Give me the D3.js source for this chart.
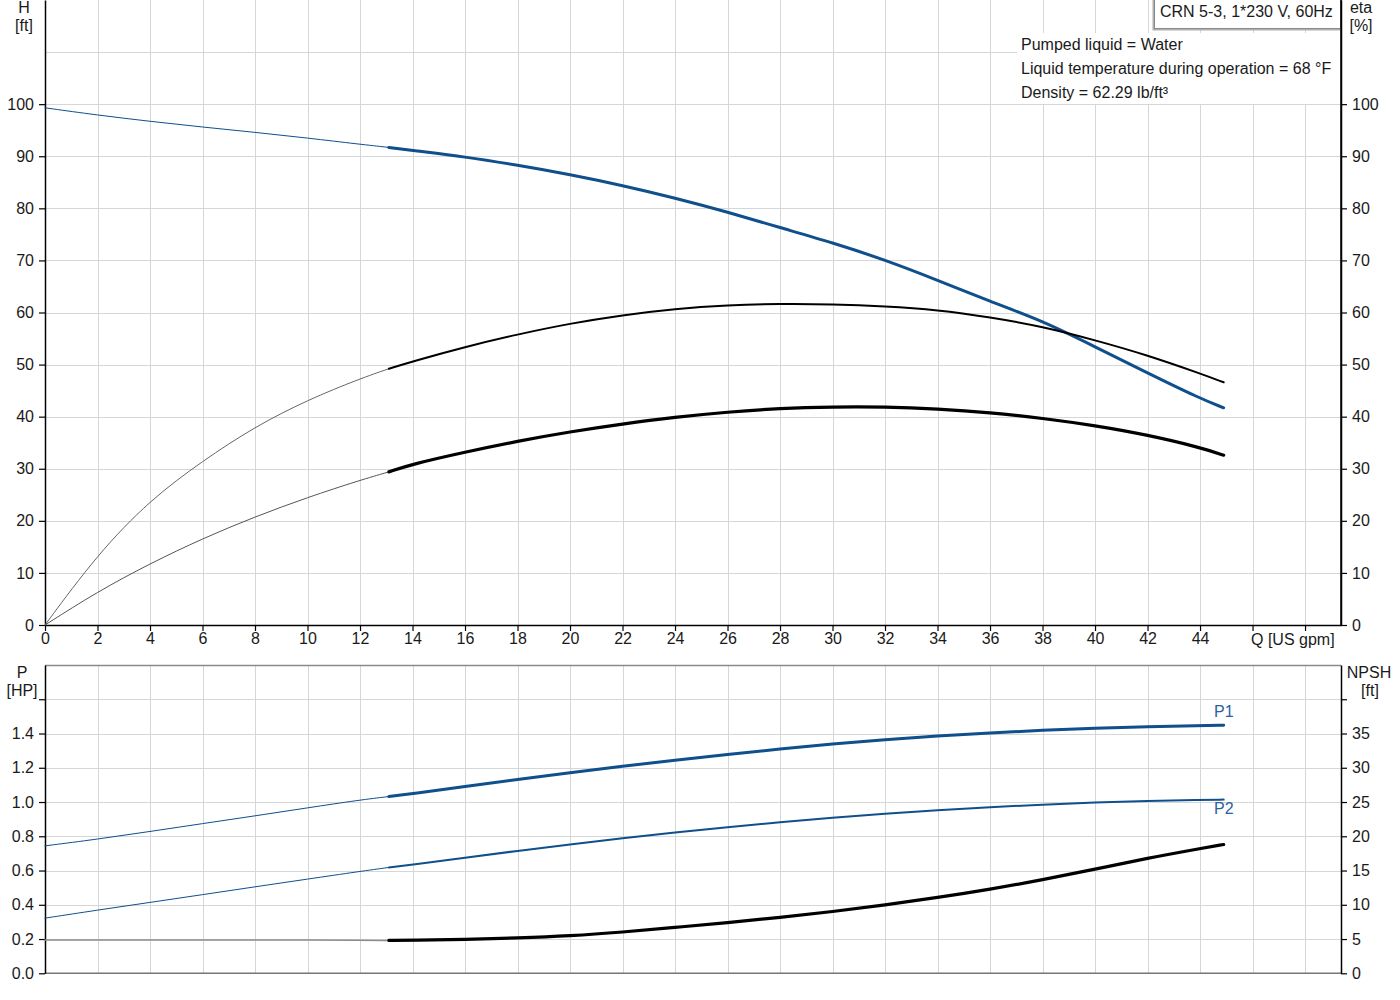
<!DOCTYPE html>
<html>
<head>
<meta charset="utf-8">
<script src="https://cdn.jsdelivr.net/npm/d3@7"></script>
<style>
  html, body { margin: 0; padding: 0; background: #fff; }
  svg { display: block; font-family: "Liberation Sans", Arial, sans-serif; }
</style>
</head>
<body>
<svg id="chart" width="1400" height="1000"></svg>
<script>
// ---------- DATA ----------
const flowLow  = [0, 2, 4, 6, 8, 10, 12, 13.1];
const flowHigh = [13.1, 14, 16, 18, 20, 22, 24, 26, 28, 30, 32, 34, 36, 38, 40, 42, 44, 44.9];

const headLow  = [99.3, 97.9, 96.7, 95.6, 94.6, 93.5, 92.3, 91.7];
const headHigh = [91.7, 91.1, 89.9, 88.3, 86.5, 84.4, 82.0, 79.3, 76.3, 73.4, 70.1, 66.2, 62.1, 58.4, 53.4, 48.4, 43.5, 41.7];

const etaLow  = [0, 13.6, 24.0, 31.5, 38.1, 43.2, 47.3, 49.2];
const etaHigh = [49.2, 50.6, 53.4, 55.8, 57.9, 59.5, 60.7, 61.4, 61.7, 61.6, 61.2, 60.5, 59.1, 57.3, 54.7, 51.8, 48.3, 46.6];

const etaTotLow  = [0, 6.4, 11.8, 16.6, 20.8, 24.5, 27.8, 29.4];
const etaTotHigh = [29.4, 30.9, 33.2, 35.3, 37.1, 38.6, 39.9, 40.9, 41.6, 41.9, 41.9, 41.5, 40.8, 39.7, 38.3, 36.5, 34.1, 32.6];

const p1Low  = [0.744, 0.783, 0.828, 0.874, 0.919, 0.966, 1.012, 1.032];
const p1High = [1.032, 1.048, 1.090, 1.132, 1.172, 1.209, 1.244, 1.278, 1.310, 1.339, 1.364, 1.386, 1.404, 1.419, 1.431, 1.440, 1.446, 1.448];

const p2Low  = [0.322, 0.369, 0.414, 0.459, 0.505, 0.550, 0.595, 0.618];
const p2High = [0.618, 0.634, 0.675, 0.715, 0.753, 0.789, 0.822, 0.853, 0.882, 0.908, 0.932, 0.952, 0.970, 0.985, 0.998, 1.007, 1.012, 1.014];

const npshLow  = [4.85, 4.85, 4.85, 4.85, 4.85, 4.85, 4.82, 4.8];
const npshHigh = [4.8, 4.84, 4.95, 5.15, 5.45, 6.0, 6.7, 7.4, 8.15, 9.0, 9.98, 11.05, 12.25, 13.65, 15.2, 16.8, 18.2, 18.8];

const qTicks      = [0,2,4,6,8,10,12,14,16,18,20,22,24,26,28,30,32,34,36,38,40,42,44,46,48];
const qTickLabels = ["0","2","4","6","8","10","12","14","16","18","20","22","24","26","28","30","32","34","36","38","40","42","44","",""];
const hTicks   = [0,10,20,30,40,50,60,70,80,90,100];
const hGrid    = [10,20,30,40,50,60,70,80,90,100,110];
const pTicks   = [0,0.2,0.4,0.6,0.8,1.0,1.2,1.4,1.6];
const pLabels  = ["0.0","0.2","0.4","0.6","0.8","1.0","1.2","1.4",""];
const npTicks  = [0,5,10,15,20,25,30,35,40];
const npLabels = ["0","5","10","15","20","25","30","35",""];

const titleText = "CRN 5-3, 1*230 V, 60Hz";
const infoLines = ["Pumped liquid = Water", "Liquid temperature during operation = 68 °F", "Density = 62.29 lb/ft³"];

// ---------- SETUP ----------
const svg = d3.select("#chart");
const L = 45, R = 1341;
const topY0 = 625, topY1 = 0;
const botY0 = 973.3, botY1 = 665;
const BLUE = "#0e4f8c";
const GRID = "#d4d6d8";
const TXT = "#1a1a1a";

const x = d3.scaleLinear().domain([0, 49.37]).range([L, R]);
const yH = d3.scaleLinear().domain([0, 120]).range([topY0, topY1]);
const yEta = d3.scaleLinear().domain([0, 120]).range([topY0, topY1]);
const yP = d3.scaleLinear().domain([0, 1.8]).range([botY0, botY1]);
const yN = d3.scaleLinear().domain([0, 45]).range([botY0, botY1]);

const crisp = v => Math.round(v) + 0.5;

// ---------- GRID ----------
const gridG = svg.append("g").attr("stroke", GRID).attr("stroke-width", 1);
qTicks.filter(q => q > 0).forEach(q => {
  gridG.append("line").attr("x1", crisp(x(q))).attr("x2", crisp(x(q))).attr("y1", topY1).attr("y2", topY0);
  gridG.append("line").attr("x1", crisp(x(q))).attr("x2", crisp(x(q))).attr("y1", botY1).attr("y2", botY0);
});
hGrid.forEach(h => {
  gridG.append("line").attr("x1", L).attr("x2", R).attr("y1", crisp(yH(h))).attr("y2", crisp(yH(h)));
});
pTicks.filter(p => p > 0).forEach(p => {
  gridG.append("line").attr("x1", L).attr("x2", R).attr("y1", crisp(yP(p))).attr("y2", crisp(yP(p)));
});

// ---------- INFO BOX (white, covers grid) ----------
svg.append("rect").attr("x", 1017).attr("y", 33).attr("width", R - 1017 - 1).attr("height", 71).attr("fill", "#fff");
const info = svg.append("g").attr("font-size", 16).attr("fill", TXT);
infoLines.forEach((t, i) => {
  info.append("text").attr("x", 1021).attr("y", 50 + i * 24).text(t);
});

// ---------- AXES ----------
function styleAxis(g, lineColor) {
  g.selectAll(".domain").attr("stroke", lineColor).attr("stroke-width", 1.5);
  g.selectAll(".tick line").attr("stroke", "#000").attr("stroke-width", 1.2);
  g.selectAll(".tick text").attr("fill", TXT).attr("font-size", 16).attr("font-family", "Liberation Sans, Arial, sans-serif");
}

// top chart
const axHL = svg.append("g").attr("transform", `translate(${L},0)`)
  .call(d3.axisLeft(yH).tickValues(hTicks).tickSize(6).tickPadding(5).tickSizeOuter(0));
styleAxis(axHL, "#000");
const axER = svg.append("g").attr("transform", `translate(${R},0)`)
  .call(d3.axisRight(yEta).tickValues(hTicks).tickSize(6).tickPadding(5).tickSizeOuter(0));
styleAxis(axER, "#000");
const axQ = svg.append("g").attr("transform", `translate(0,${topY0})`)
  .call(d3.axisBottom(x).tickValues(qTicks).tickFormat((d, i) => qTickLabels[i]).tickSize(6).tickPadding(2).tickSizeOuter(0));
styleAxis(axQ, "#000");
svg.append("text").attr("x", 1251).attr("y", 645).attr("font-size", 16).attr("fill", TXT).text("Q [US gpm]");

// bottom chart
svg.append("line").attr("x1", L).attr("x2", R).attr("y1", crisp(botY1)).attr("y2", crisp(botY1)).attr("stroke", "#8a8a8a").attr("stroke-width", 1.5);
svg.append("line").attr("x1", L).attr("x2", R).attr("y1", botY0).attr("y2", botY0).attr("stroke", "#777").attr("stroke-width", 1.5);
const axPL = svg.append("g").attr("transform", `translate(${L},0)`)
  .call(d3.axisLeft(yP).tickValues(pTicks).tickFormat((d, i) => pLabels[i]).tickSize(6).tickPadding(5).tickSizeOuter(0));
styleAxis(axPL, "#000");
const axNR = svg.append("g").attr("transform", `translate(${R},0)`)
  .call(d3.axisRight(yN).tickValues(npTicks).tickFormat((d, i) => npLabels[i]).tickSize(6).tickPadding(5).tickSizeOuter(0));
styleAxis(axNR, "#000");

// axis titles
const titles = svg.append("g").attr("font-size", 16).attr("fill", TXT).attr("text-anchor", "middle");
titles.append("text").attr("x", 24).attr("y", 13).text("H");
titles.append("text").attr("x", 24).attr("y", 31).text("[ft]");
titles.append("text").attr("x", 1361).attr("y", 13).text("eta");
titles.append("text").attr("x", 1361).attr("y", 31).text("[%]");
titles.append("text").attr("x", 22).attr("y", 678).text("P");
titles.append("text").attr("x", 22).attr("y", 696).text("[HP]");
titles.append("text").attr("x", 1369).attr("y", 678).text("NPSH");
titles.append("text").attr("x", 1370).attr("y", 696).text("[ft]");

// ---------- CURVES ----------
function drawCurve(flows, vals, yScale, color, width) {
  const pts = flows.map((q, i) => [x(q), yScale(vals[i])]);
  svg.append("path")
    .attr("d", d3.line().curve(d3.curveBasis)(pts))
    .attr("fill", "none").attr("stroke", color).attr("stroke-width", width)
    .attr("stroke-linecap", "round").attr("stroke-linejoin", "round");
}

// top: H, eta, eta total
drawCurve(flowLow, headLow, yH, BLUE, 1);
drawCurve(flowHigh, headHigh, yH, BLUE, 3);
drawCurve(flowLow, etaLow, yEta, "#666", 1);
drawCurve(flowHigh, etaHigh, yEta, "#000", 2);
drawCurve(flowLow, etaTotLow, yEta, "#555", 1);
drawCurve(flowHigh, etaTotHigh, yEta, "#000", 3.2);

// bottom: P1, P2, NPSH
drawCurve(flowLow, p1Low, yP, BLUE, 1);
drawCurve(flowHigh, p1High, yP, BLUE, 3);
drawCurve(flowLow, p2Low, yP, BLUE, 1);
drawCurve(flowHigh, p2High, yP, BLUE, 2);
drawCurve(flowLow, npshLow, yN, "#8c8c8c", 1.5);
drawCurve(flowHigh, npshHigh, yN, "#000", 3.2);

// curve labels
const lab = svg.append("g").attr("font-size", 16).attr("fill", "#2a62a0");
lab.append("text").attr("x", 1214).attr("y", 717).text("P1");
lab.append("text").attr("x", 1214).attr("y", 814).text("P2");

// ---------- TITLE BOX ----------
svg.append("rect").attr("x", 1152.5).attr("y", -2).attr("width", 188).attr("height", 32.5).attr("fill", "#b0b0b0");
svg.append("rect").attr("x", 1154.5).attr("y", -1.5).attr("width", 186).attr("height", 30).attr("fill", "#fff").attr("stroke", "#8a8a8a").attr("stroke-width", 1);
svg.append("text").attr("x", 1160).attr("y", 17).attr("font-size", 16).attr("fill", TXT).text(titleText);

// redraw right axis line over box
svg.append("line").attr("x1", R).attr("x2", R).attr("y1", 0).attr("y2", topY0).attr("stroke", "#000").attr("stroke-width", 1.5);
</script>
</body>
</html>
